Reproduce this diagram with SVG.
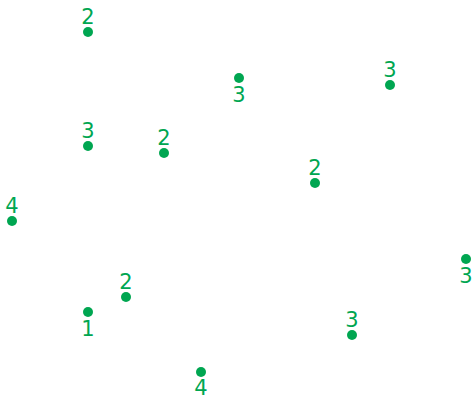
<svg xmlns="http://www.w3.org/2000/svg" width="473" height="400" viewBox="0 0 473 400">
<style>
.d{fill:#00A651}
.t{fill:#00A651;font-family:"DejaVu Sans",sans-serif;font-size:21px;text-anchor:middle}
</style>
<rect width="473" height="400" fill="#fff"/>
<g id="n1"><circle class="d" cx="88" cy="32" r="5"/><text class="t" x="88" y="24">2</text></g>
<g id="n2"><circle class="d" cx="239" cy="78" r="5"/><text class="t" x="239" y="102">3</text></g>
<g id="n3"><circle class="d" cx="390" cy="85" r="5"/><text class="t" x="390" y="77">3</text></g>
<g id="n4"><circle class="d" cx="88" cy="146" r="5"/><text class="t" x="88" y="138">3</text></g>
<g id="n5"><circle class="d" cx="164" cy="153" r="5"/><text class="t" x="164" y="145">2</text></g>
<g id="n6"><circle class="d" cx="315" cy="183" r="5"/><text class="t" x="315" y="175">2</text></g>
<g id="n7"><circle class="d" cx="12" cy="221" r="5"/><text class="t" x="12" y="213">4</text></g>
<g id="n8"><circle class="d" cx="466" cy="259" r="5"/><text class="t" x="466" y="283">3</text></g>
<g id="n9"><circle class="d" cx="126" cy="297" r="5"/><text class="t" x="126" y="289">2</text></g>
<g id="n10"><circle class="d" cx="88" cy="312" r="5"/><text class="t" x="88" y="336">1</text></g>
<g id="n11"><circle class="d" cx="352" cy="335" r="5"/><text class="t" x="352" y="327">3</text></g>
<g id="n12"><circle class="d" cx="201" cy="372" r="5"/><text class="t" x="201" y="395">4</text></g>
<g id="connectors"/>
</svg>
